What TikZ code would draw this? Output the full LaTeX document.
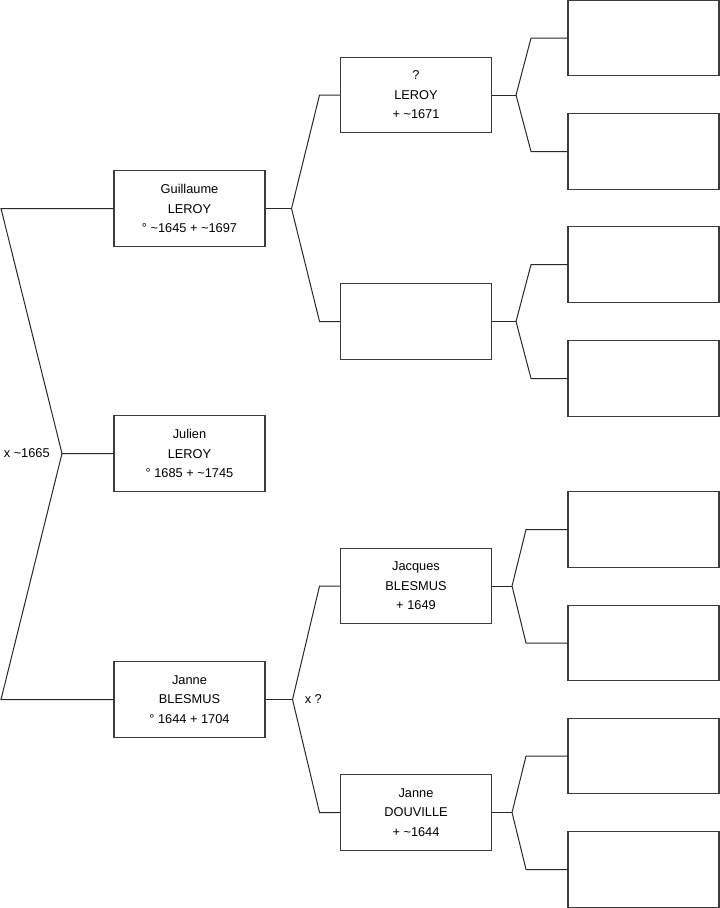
\documentclass[tikz,border=0pt]{standalone}
\usepackage{fontspec}
\setmainfont{Liberation Sans}
\definecolor{boxline}{RGB}{60,60,60}
\definecolor{linkline}{RGB}{40,40,40}
\usetikzlibrary{positioning,calc}

\begin{document}
\begin{tikzpicture}[x=0.75pt,y=-0.75pt,
    person/.style={draw=boxline,line width=0.8pt,minimum width=113.25pt,minimum height=56.6pt,
      inner sep=0pt,align=center,font=\fontsize{9.6}{14.6}\selectfont},
    link/.style={draw=linkline,line width=0.75pt},
    tag/.style={inner sep=0pt,font=\fontsize{9.6}{11}\selectfont}]
  \useasboundingbox (0,0) rectangle (719,908);
  % generation 1 to 3
  \node[person] (julien) at (189.5,453.5) {Julien\\LEROY\\° 1685 + \textasciitilde1745};
  \node[person] (guillaume) at (189.5,208.5) {Guillaume\\LEROY\\° \textasciitilde1645 + \textasciitilde1697};
  \node[person] (janne) at (189.5,699.5) {Janne\\BLESMUS\\° 1644 + 1704};
  \node[person] (leroyp) at (416,95) {?\\LEROY\\+ \textasciitilde1671};
  \node[person] (leroym) at (416,321.5) {};
  \node[person] (jacques) at (416,586) {Jacques\\BLESMUS\\+ 1649};
  \node[person] (douville) at (416,812.5) {Janne\\DOUVILLE\\+ \textasciitilde1644};
  % generation 4, still empty
  \foreach \n/\y in {a1/38, a2/151.5, a3/264.5, a4/378.5, a5/529.5, a6/643, a7/756, a8/869.5}
    \node[person] (\n) at (643.5,\y) {};

  % couples
  \coordinate (jroot) at (62,453.5);
  \draw[link] (julien.west) -- (jroot) -- (guillaume.west -| 1,0) -- (guillaume.west);
  \draw[link] (jroot) -- (janne.west -| 1,0) -- (janne.west);
  \node[tag,left=9pt of jroot] (mroot) {x \textasciitilde1665};

  \foreach \p/\j/\m/\f/\d/\e in {guillaume/jg/leroyp/leroym/26/28, janne/jj/jacques/douville/27/27,
      leroyp/jp1/a1/a2/24/15, leroym/jp2/a3/a4/24/15, jacques/jp3/a5/a6/20/14, douville/jp4/a7/a8/20/14} {
    \draw[link] (\p.east) -- ++(\d,0) coordinate (\j);
    \path (\j) ++(\e,0) coordinate (\j arm);
    \draw[link] (\j) -- (\j arm |- \m.west) -- (\m.west);
    \draw[link] (\j) -- (\j arm |- \f.west) -- (\f.west);
  }
  \node[tag,right=9pt of jj] (mjan) {x ?};
\end{tikzpicture}
\end{document}
